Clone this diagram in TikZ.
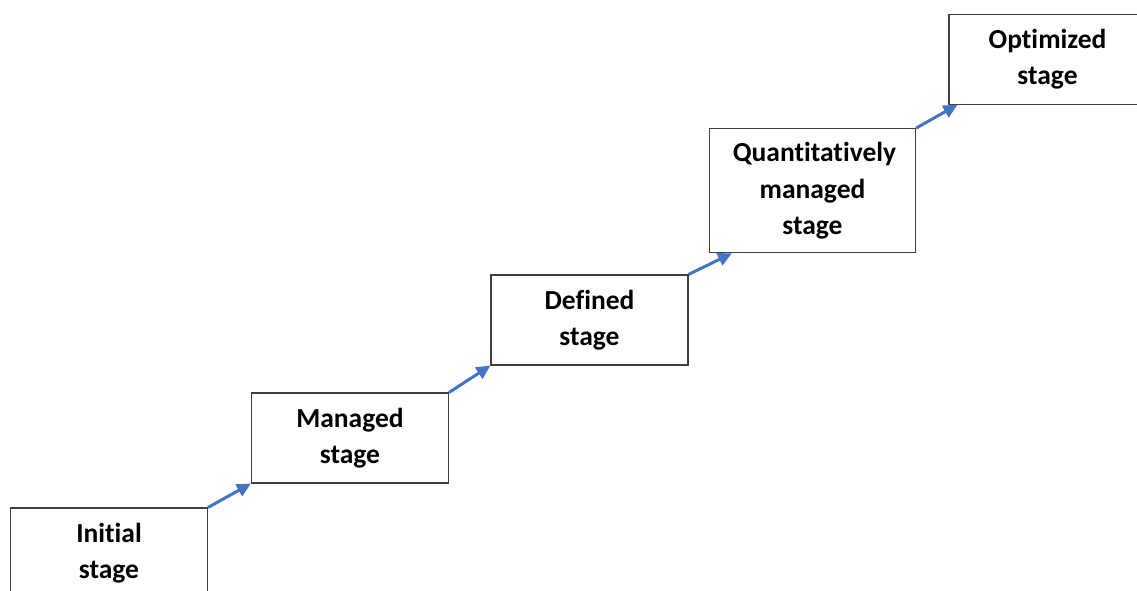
\documentclass[tikz,border=0pt]{standalone}
\usepackage{fontspec}
\setmainfont[Ligatures=NoCommon]{Carlito}
\usepackage{xcolor}
\usepackage{tikz}
\usetikzlibrary{positioning, arrows.meta}
\definecolor{stepBlue}{HTML}{4472C4}
\definecolor{boxGray}{HTML}{404040}

\begin{document}
\begin{tikzpicture}[x=1pt, y=-1pt,
    stagebox/.style={draw=boxGray, line width=1.1pt, text width=5.6cm,
      align=center, font=\fontsize{27.5}{36.5}\selectfont\bfseries,
      minimum width=197pt, minimum height=90pt, inner sep=0pt},
    arr/.style={-{Triangle[length=14pt, width=13pt]}, line width=3pt, stepBlue}]
    \useasboundingbox (0,0) rectangle (1137,590);
    \node[stagebox] (initial) at (109,553) {Initial \\ stage};
    \node[stagebox] (managed) at (350,438) {Managed \\ stage};
    \node[stagebox] (defined) at (589.5,320) {Defined \\ stage};
    \node[stagebox, minimum width=206pt, minimum height=124pt] (quant) at (812.5,190.7)
      {Quantitatively \\ managed \\ stage};
    \node[stagebox] (optim) at (1047.5,59.2) {Optimized \\ stage};
    \draw[arr](initial.north east)--(managed.south west);
    \draw[arr](managed.north east)--(defined.south west);
    \draw[arr](defined.north east)--([xshift=23pt]quant.south west);
    \draw[arr](quant.north east)--([xshift=9pt]optim.south west);
  \end{tikzpicture}
\end{document}
